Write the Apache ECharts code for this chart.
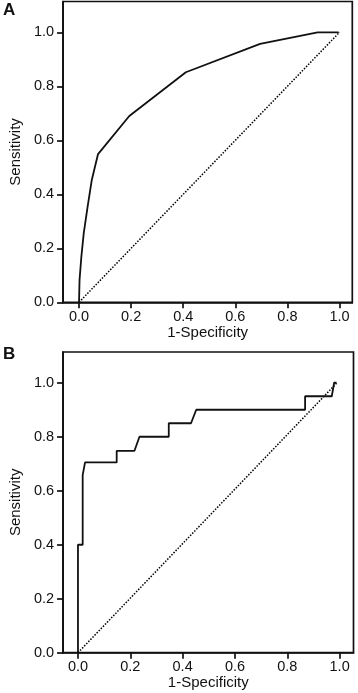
<!DOCTYPE html>
<html>
<head>
<meta charset="utf-8">
<style>
html, body { margin: 0; padding: 0; background: #fff; }
#roc { width: 358px; height: 693px; }
</style>
<script src="https://cdn.jsdelivr.net/npm/echarts@6/dist/echarts.min.js"></script>
</head>
<body>
<div id="roc"></div>
<script>
// tick positions shared by both panels
var tickValues = [0, 0.2, 0.4, 0.6, 0.8, 1.0];

// panel A ROC curve
var specA = [0, 0.002, 0.009, 0.018, 0.033, 0.049, 0.073, 0.193, 0.41, 0.695, 0.916, 0.997];
var sensA = [0, 0.083, 0.169, 0.255, 0.354, 0.453, 0.549, 0.690, 0.852, 0.957, 1.0, 1.0];

// panel B ROC curve (stepped)
var specB = [0, 0, 0.018, 0.018, 0.027, 0.148, 0.148, 0.216, 0.235, 0.347, 0.347, 0.432, 0.452, 0.868, 0.868, 0.970, 0.979, 0.988];
var sensB = [0, 0.40, 0.40, 0.658, 0.705, 0.705, 0.748, 0.748, 0.80, 0.80, 0.85, 0.85, 0.90, 0.90, 0.95, 0.95, 1.0, 1.0];

// reference diagonals
var diagA = [[0, 0], [1, 1]];
var diagB = [[0, 0], [0.99, 1]];

function zip(xs, ys) {
    return xs.map(function (x, i) { return [x, ys[i]]; });
}

var font = "'Liberation Sans', Arial, sans-serif";

function xAxisFor(idx, min, max) {
    return {
        type: 'value', gridIndex: idx, min: min, max: max,
        name: '1-Specificity', nameLocation: 'middle', nameGap: 23,
        nameTextStyle: { fontSize: 15, color: '#111', fontFamily: font },
        axisLine: { show: true, onZero: false, lineStyle: { color: '#111', width: 1.7 } },
        axisTick: { show: true, length: 6, customValues: tickValues, lineStyle: { color: '#111', width: 1.7 } },
        axisLabel: {
            customValues: tickValues, margin: 7, fontSize: 14.5, color: '#111', fontFamily: font,
            formatter: function (v) { return v.toFixed(1); }
        },
        splitLine: { show: false }
    };
}

function yAxisFor(idx, min, max) {
    return {
        type: 'value', gridIndex: idx, min: min, max: max,
        name: 'Sensitivity', nameLocation: 'middle', nameGap: 34,
        nameTextStyle: { fontSize: 15, color: '#111', fontFamily: font },
        axisLine: { show: true, onZero: false, lineStyle: { color: '#111', width: 1.7 } },
        axisTick: { show: true, length: 6, customValues: tickValues, lineStyle: { color: '#111', width: 1.7 } },
        axisLabel: {
            customValues: tickValues, margin: 9, fontSize: 14.5, color: '#111', fontFamily: font,
            formatter: function (v) { return v.toFixed(1); }
        },
        splitLine: { show: false }
    };
}

var chart = echarts.init(document.getElementById('roc'));
var option = {
    backgroundColor: '#fff',
    animation: false,
    graphic: [
        { type: 'text', left: 3, top: 2, style: { text: 'A', font: 'bold 17px ' + font, fill: '#111' } },
        { type: 'text', left: 3, top: 346, style: { text: 'B', font: 'bold 17px ' + font, fill: '#111' } }
    ],
    grid: [
        { left: 50, top: 1.5, width: 302.3, height: 300.8, show: true, borderColor: '#111', borderWidth: 1.7, containLabel: false },
        { left: 48.3, top: 352, width: 305.2, height: 300.7, show: true, borderColor: '#111', borderWidth: 1.7, containLabel: false }
    ],
    xAxis: [
        xAxisFor(0, -0.0613, 1.049),
        xAxisFor(1, -0.057, 1.053)
    ],
    yAxis: [
        yAxisFor(0, 0, 1.114),
        yAxisFor(1, 0, 1.114)
    ],
    series: [
        {
            type: 'line', xAxisIndex: 0, yAxisIndex: 0, data: diagA, symbol: 'none',
            lineStyle: { color: '#000', width: 1.5, type: [1.5, 1.5] }
        },
        {
            type: 'line', xAxisIndex: 0, yAxisIndex: 0, data: zip(specA, sensA), symbol: 'none',
            lineStyle: { color: '#111', width: 1.8 }
        },
        {
            type: 'line', xAxisIndex: 1, yAxisIndex: 1, data: diagB, symbol: 'none',
            lineStyle: { color: '#000', width: 1.5, type: [1.5, 1.5] }
        },
        {
            type: 'line', xAxisIndex: 1, yAxisIndex: 1, data: zip(specB, sensB), symbol: 'none',
            lineStyle: { color: '#111', width: 1.8 }
        }
    ]
};
chart.setOption(option);
</script>
</body>
</html>
